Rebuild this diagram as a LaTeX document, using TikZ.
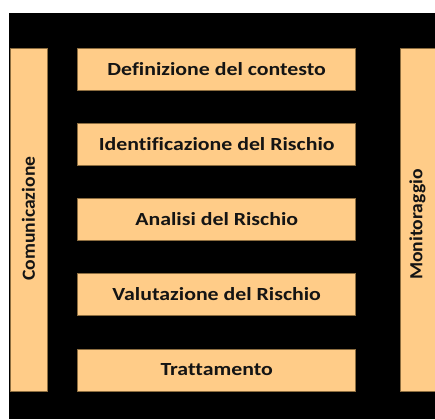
\documentclass[tikz,border=0pt]{standalone}
\usepackage{fontspec}
\setmainfont{Carlito}
\newfontfamily\hfont[FakeStretch=1.18,Ligatures=NoCommon]{Carlito}
\newfontfamily\vfont[FakeStretch=1.06,Ligatures=NoCommon]{Carlito}
\definecolor{boxfill}{HTML}{FFCC88}
\definecolor{boxline}{HTML}{8C6D3F}
\definecolor{txt}{HTML}{141414}
\begin{document}
\begin{tikzpicture}[x=1bp,y=-1bp,
  stage/.style={draw=boxline,fill=boxfill,line width=0.8bp,minimum width=278bp,minimum height=42bp,inner sep=0pt,
    font=\hfont\fontsize{18.5bp}{22bp}\selectfont\bfseries,text=txt},
  side/.style={draw=boxline,fill=boxfill,line width=0.8bp,minimum width=37bp,minimum height=343bp,inner sep=0pt},
  sidetext/.style={rotate=90,font=\vfont\fontsize{18.5bp}{22bp}\selectfont\bfseries,text=txt,inner sep=0pt}]
\useasboundingbox (0,0) rectangle (435,419);
\fill[white] (0,0) rectangle (435,419);
\fill[black] (9,13) rectangle (435,419);
\node[side] (com) at (28.5,219.5) {};
\node[sidetext] (comt) at (28.5,218.5) {Comunicazione};
\node[side] (mon) at (418.5,219.5) {};
\node[sidetext] (mont) at (417.5,224.5) {Monitoraggio};
\node[stage] (s1) at (216.7,69) {Definizione del contesto};
\node[stage] (s2) at (216.7,144) {Identificazione del Rischio};
\node[stage] (s3) at (216.7,219) {Analisi del Rischio};
\node[stage] (s4) at (216.7,294.5) {Valutazione del Rischio};
\node[stage] (s5) at (216.7,370) {Trattamento};
\end{tikzpicture}
\end{document}
